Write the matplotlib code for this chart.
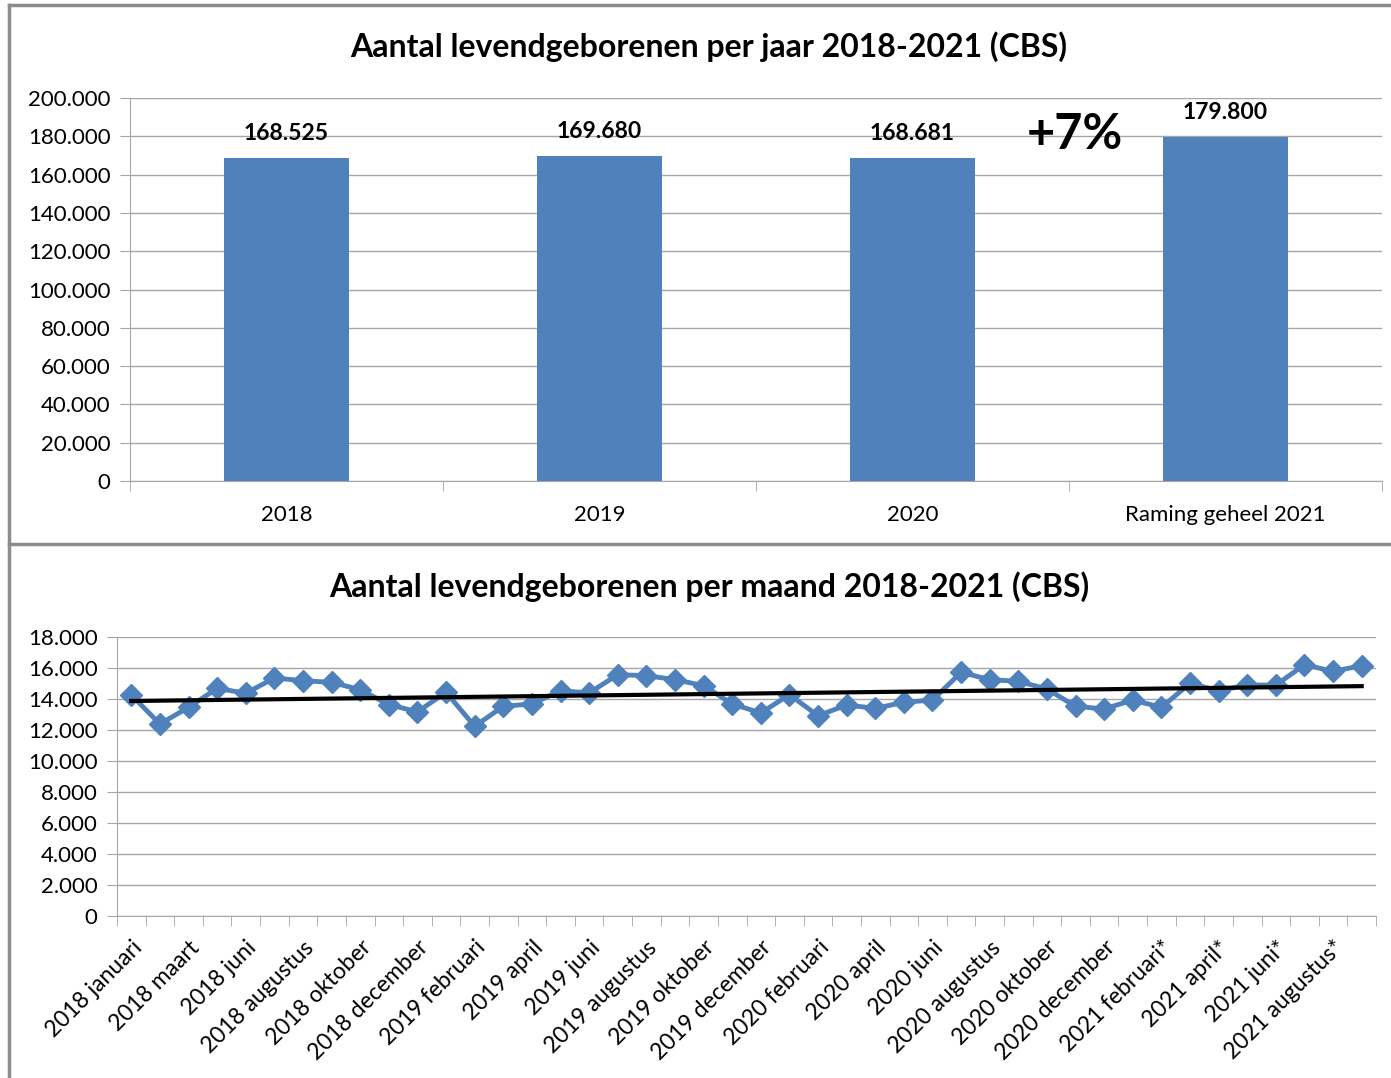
import numpy as np
import matplotlib.pyplot as plt
from matplotlib.lines import Line2D
from matplotlib.ticker import FuncFormatter, FixedLocator

plt.rcParams['font.family'] = ['Lato', 'DejaVu Sans']

# jaarcijfers
jaren = ["2018", "2019", "2020", "Raming geheel 2021"]
geboren_jaar = [168525, 169680, 168681, 179800]

# maandcijfers
maanden = [
    "2018 januari", "2018 februari", "2018 maart", "2018 mei", "2018 juni",
    "2018 juli", "2018 augustus", "2018 september", "2018 oktober",
    "2018 november", "2018 december",
    "2019 januari", "2019 februari", "2019 maart", "2019 april", "2019 mei",
    "2019 juni", "2019 juli", "2019 augustus", "2019 september",
    "2019 oktober", "2019 november", "2019 december",
    "2020 januari", "2020 februari", "2020 maart", "2020 april", "2020 mei",
    "2020 juni", "2020 juli", "2020 augustus", "2020 september",
    "2020 oktober", "2020 november", "2020 december",
    "2021 januari*", "2021 februari*", "2021 maart*", "2021 april*",
    "2021 mei*", "2021 juni*", "2021 juli*", "2021 augustus*",
    "2021 september*",
]
geboren_maand = [
    14260, 12390, 13460, 14690, 14370, 15355, 15180, 15075, 14600, 13635,
    13180, 14430, 12240, 13530, 13680, 14535, 14390, 15570, 15505, 15250,
    14860, 13680, 13100, 14280, 12925, 13610, 13400, 13785, 13935, 15720,
    15250, 15140, 14645, 13530, 13355, 13935, 13460, 15010, 14535, 14900,
    14900, 16210, 15785, 16150,
]

blauw = "#4F81BD"
grijs = "#A6A6A6"


def punt_formaat(v, pos=None):
    return f"{v:,.0f}".replace(",", ".")


fig = plt.figure(figsize=(13.91, 10.78), dpi=100)
W, H = 1391, 1078

# kaders om de twee grafieken
rand = "#8C8C8C"
fig.add_artist(Line2D([9 / W, 1], [1 - 5 / H, 1 - 5 / H], color=rand, lw=2.5))
fig.add_artist(Line2D([9 / W, 9 / W], [0, 1 - 5 / H], color=rand, lw=2.5))
fig.add_artist(Line2D([9 / W, 1], [1 - 544 / H, 1 - 544 / H], color=rand, lw=2.5))


# Staafdiagram per jaar
ax1 = fig.add_axes([130 / W, 1 - 481 / H, 1252 / W, 383 / H])

x = np.arange(len(jaren))
staven = ax1.bar(x, geboren_jaar, width=0.4, color=blauw, zorder=3)

for xi, v in zip(x, geboren_jaar):
    ax1.annotate(punt_formaat(v), (xi, v), xytext=(0, 10), textcoords="offset points",
                 ha="center", va="bottom", fontsize=16.5, fontweight="bold")

ax1.text(2.52, 180700, "+7%", ha="center", va="center", fontsize=35, fontweight="bold")

ax1.set_xlim(-0.5, len(jaren) - 0.5)
ax1.set_ylim(0, 200000)
ax1.set_yticks(np.arange(0, 200001, 20000))
ax1.yaxis.set_major_formatter(FuncFormatter(punt_formaat))
ax1.set_xticks(x)
ax1.set_xticklabels(jaren)
ax1.xaxis.set_minor_locator(FixedLocator(np.arange(-0.5, len(jaren), 1)))
ax1.tick_params(axis="x", which="major", length=0, pad=17, labelsize=16)
ax1.tick_params(axis="x", which="minor", length=7, color=grijs, direction="out")
ax1.tick_params(axis="y", length=7, color=grijs, labelsize=16, pad=7)
ax1.grid(axis="y", color=grijs, lw=1, zorder=0)
for kant in ["top", "right"]:
    ax1.spines[kant].set_visible(False)
for kant in ["left", "bottom"]:
    ax1.spines[kant].set_color(grijs)
fig.text(709 / W, 1 - 47 / H, "Aantal levendgeborenen per jaar 2018-2021 (CBS)",
         ha="center", va="center", fontsize=23, fontweight="bold")


# Lijngrafiek per maand
ax2 = fig.add_axes([117 / W, 1 - 916 / H, 1259 / W, 279 / H])

xm = np.arange(len(maanden))
ax2.plot(xm, geboren_maand, color=blauw, lw=3.5, marker="D", markersize=11, zorder=3)

# lineaire trendlijn
a, b = np.polyfit(xm, geboren_maand, 1)
ax2.plot(xm, a * xm + b, color="black", lw=3, zorder=4)

ax2.set_xlim(-0.5, len(maanden) - 0.5)
ax2.set_ylim(0, 18000)
ax2.set_yticks(np.arange(0, 18001, 2000))
ax2.yaxis.set_major_formatter(FuncFormatter(punt_formaat))
ax2.set_xticks(xm[::2])
ax2.set_xticklabels(maanden[::2], rotation=45, ha="right", rotation_mode="anchor")
ax2.xaxis.set_minor_locator(FixedLocator(np.arange(-0.5, len(maanden), 1)))
ax2.tick_params(axis="x", which="major", length=0, pad=15, labelsize=16.5)
ax2.tick_params(axis="x", which="minor", length=7, color=grijs, direction="out")
ax2.tick_params(axis="y", length=7, color=grijs, labelsize=16, pad=7)
ax2.grid(axis="y", color=grijs, lw=1, zorder=0)
for kant in ["top", "right"]:
    ax2.spines[kant].set_visible(False)
for kant in ["left", "bottom"]:
    ax2.spines[kant].set_color(grijs)
fig.text(709 / W, 1 - 587 / H, "Aantal levendgeborenen per maand 2018-2021 (CBS)",
         ha="center", va="center", fontsize=23, fontweight="bold")

plt.savefig("out.png", dpi=100)
